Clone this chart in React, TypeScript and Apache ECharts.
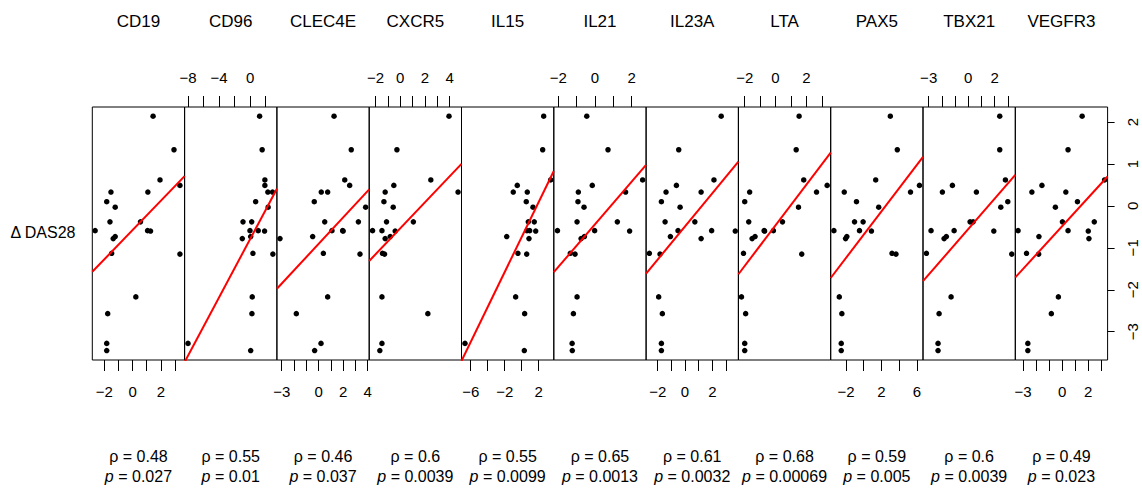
import React, { useEffect, useRef } from "react";
import * as echarts from "echarts";

// ---------- data ----------
const genes = ["CD19", "CD96", "CLEC4E", "CXCR5", "IL15", "IL21", "IL23A", "LTA", "PAX5", "TBX21", "VEGFR3"];

// change in DAS28 per patient (shared y values)
const deltaDAS28 = [2.14, 1.34, 0.62, 0.49, 0.33, 0.33, 0.1, -0.03, -0.38, -0.38, -0.59, -0.59, -0.6, -0.73, -0.78, -1.13, -1.15, -2.17, -2.57, -3.28, -3.45];

// expression values per gene (same patient order as deltaDAS28)
const xCD19 = [1.45, 2.93, 1.94, 3.35, -1.53, 1.08, -1.83, -1.23, -1.6, 0.56, -2.65, 1.06, 1.27, -1.23, -1.37, -1.48, 3.35, 0.23, -1.76, -1.83, -1.83];
const xCD96 = [1.23, 1.56, 1.91, 1.91, 2.29, 2.9, 0.72, 2.33, -0.91, 0.21, -0.01, 1.05, 1.87, 0.08, -1.0, 0.37, 2.94, 0.28, 0.24, -8.0, 0.08];
const xCLEC4E = [1.26, 2.66, 2.13, 2.53, 0.22, 0.74, -0.35, 3.83, 0.5, 3.24, 1.09, 1.96, 2.0, -0.48, -3.14, 0.39, 3.37, 0.74, -1.81, 0.2, -0.32];
const xCXCR5 = [3.94, -0.27, 2.47, -0.52, -1.22, 4.67, -1.32, -0.57, -1.11, 1.06, -2.24, -1.48, -0.41, -0.81, -1.22, -1.44, -1.27, -1.48, 2.23, -1.48, -1.65];
const xIL15 = [2.59, 2.47, 3.41, -0.52, -0.99, 0.66, 0.54, 1.33, 0.78, 1.48, 0.62, 0.94, 1.65, -1.76, 0.86, -0.44, 0.59, -0.71, 0.35, -6.67, 0.31];
const xIL21 = [-0.45, 0.71, 2.6, -0.15, -0.91, 1.67, -0.93, -0.6, -0.98, 1.22, -2.05, -0.02, 1.89, -0.58, -0.76, -1.35, -1.09, -0.98, -1.18, -1.25, -1.24];
const xIL23A = [2.65, -0.46, 2.12, -0.63, -1.39, 1.18, -1.73, -0.36, -1.46, 0.72, -0.51, 1.95, 3.68, -1.07, 1.18, -2.61, -1.83, -1.93, -1.66, -1.73, -1.73];
const xLTA = [1.53, 1.34, 1.83, 3.35, -1.68, 2.66, -2.0, 1.49, -1.74, 0.45, -0.74, -0.14, -0.71, -1.33, -1.52, -2.08, 1.7, -2.21, -1.94, -2.0, -2.0];
const xPAX5 = [3.01, 3.8, 1.36, 6.3, -2.19, 5.29, -0.81, 1.7, -1.03, -0.06, -3.36, -0.47, 0.88, -1.9, -2.04, 3.2, 3.65, -2.75, -2.46, -2.53, -2.53];
const xTBX21 = [2.39, 2.39, 2.82, -1.2, -1.96, 0.62, 3.0, 2.47, 0.14, 0.37, -2.82, -1.07, 1.94, -1.66, -1.83, -3.17, 3.3, -1.3, -2.21, -2.29, -2.29];
const xVEGFR3 = [1.53, 0.45, 3.25, -1.55, -2.32, 0.28, 1.17, -0.52, 0.02, 2.46, -3.38, 0.45, 2.0, -1.78, 2.05, -2.73, -1.8, -0.29, -0.83, -2.63, -2.63];

const xValues = [xCD19, xCD96, xCLEC4E, xCXCR5, xIL15, xIL21, xIL23A, xLTA, xPAX5, xTBX21, xVEGFR3];

// x axis extents per panel
const xMin = [-2.85, -8.44, -3.39, -2.51, -7.08, -2.25, -2.85, -2.41, -3.72, -3.43, -3.59];
const xMax = [3.68, 3.46, 4.12, 4.95, 3.78, 2.79, 3.91, 3.58, 6.7, 3.57, 3.48];

// tick marks and tick labels per panel
const xTicks = [
  [-2, -1, 0, 1, 2, 3],
  [-8, -6, -4, -2, 0, 2],
  [-3, -2, -1, 0, 1, 2, 3, 4],
  [-2, -1, 0, 1, 2, 3, 4],
  [-6, -4, -2, 0, 2],
  [-2, -1, 0, 1, 2],
  [-2, -1, 0, 1, 2, 3],
  [-2, -1, 0, 1, 2, 3],
  [-2, 0, 2, 4, 6],
  [-3, -2, -1, 0, 1, 2, 3],
  [-3, -2, -1, 0, 1, 2, 3],
];
const xTickLabels = [
  [-2, 0, 2],
  [-8, -4, 0],
  [-3, 0, 2, 4],
  [-2, 0, 2, 4],
  [-6, -2, 2],
  [-2, 0, 2],
  [-2, 0, 2],
  [-2, 0, 2],
  [-2, 2, 6],
  [-3, 0, 2],
  [-3, 0, 2],
];

const yMin = -3.676;
const yMax = 2.36;
const yTicks = [-3, -2, -1, 0, 1, 2];

const rho = ["0.48", "0.55", "0.46", "0.6", "0.55", "0.65", "0.61", "0.68", "0.59", "0.6", "0.49"];
const pValues = ["0.027", "0.01", "0.037", "0.0039", "0.0099", "0.0013", "0.0032", "0.00069", "0.005", "0.0039", "0.023"];

// ---------- layout ----------
const FONT = "'Liberation Sans', Arial, Helvetica, sans-serif";
const PANEL_LEFT = 92.3;
const PANEL_W = 92.3;
const PANEL_TOP = 107;
const PANEL_H = 253;

const fmt = (v: number) => (v < 0 ? "\u2212" + Math.abs(v) : String(v));

function linFit(xs: number[], ys: number[]) {
  const n = xs.length;
  let mx = 0, my = 0;
  for (let i = 0; i < n; i++) { mx += xs[i]; my += ys[i]; }
  mx /= n; my /= n;
  let sxy = 0, sxx = 0;
  for (let i = 0; i < n; i++) { sxy += (xs[i] - mx) * (ys[i] - my); sxx += (xs[i] - mx) ** 2; }
  const b = sxy / sxx;
  return { a: my - b * mx, b };
}

export default function App() {
  const ref = useRef<HTMLDivElement>(null);

  useEffect(() => {
    if (!ref.current) return;
    const chart = echarts.init(ref.current, null, { renderer: "svg" });

    const grids: any[] = [];
    const xAxes: any[] = [];
    const yAxes: any[] = [];
    const series: any[] = [];
    const graphics: any[] = [];

    genes.forEach((g, i) => {
      const left = PANEL_LEFT + i * PANEL_W;
      const cx = left + PANEL_W / 2;
      grids.push({
        left, top: PANEL_TOP, width: PANEL_W, height: PANEL_H,
        show: true, borderColor: "#000", borderWidth: 1, backgroundColor: "transparent",
        containLabel: false, outerBoundsMode: "none",
      });
      const bottom = i % 2 === 0;
      xAxes.push({
        gridIndex: i, type: "value", min: xMin[i], max: xMax[i],
        position: bottom ? "bottom" : "top",
        axisLine: { show: false, onZero: false },
        splitLine: { show: false },
        axisTick: { show: true, inside: false, length: 11, lineStyle: { color: "#000", width: 1 }, customValues: xTicks[i] },
        axisLabel: {
          show: true, customValues: xTickLabels[i], formatter: (v: number) => fmt(v),
          margin: bottom ? 24 : 22, color: "#000", fontSize: 15, fontFamily: FONT,
          showMinLabel: true, showMaxLabel: true, hideOverlap: false,
        },
      });
      const last = i === genes.length - 1;
      yAxes.push({
        gridIndex: i, type: "value", min: yMin, max: yMax, position: "right", show: last,
        axisLine: { show: false, onZero: false },
        splitLine: { show: false },
        axisTick: { show: true, inside: false, length: 7, lineStyle: { color: "#000", width: 1 }, customValues: yTicks },
        axisLabel: {
          show: true, customValues: yTicks, formatter: (v: number) => fmt(v), rotate: 90,
          margin: 17, color: "#000", fontSize: 15, fontFamily: FONT,
        },
      });
      const xs = xValues[i];
      series.push({
        type: "scatter", xAxisIndex: i, yAxisIndex: i,
        data: xs.map((x, k) => [x, deltaDAS28[k]]),
        symbol: "circle", symbolSize: 5.5,
        itemStyle: { color: "#000", opacity: 1 },
        z: 2,
      });
      const { a, b } = linFit(xs, deltaDAS28);
      series.push({
        type: "line", xAxisIndex: i, yAxisIndex: i,
        data: [[xMin[i], a + b * xMin[i]], [xMax[i], a + b * xMax[i]]],
        showSymbol: false, symbol: "none", clip: true,
        lineStyle: { color: "#ff0000", width: 2 },
        z: 3,
      });

      graphics.push({
        type: "text", x: cx, y: 21,
        style: { text: g, fill: "#000", fontSize: 17, fontFamily: FONT, textAlign: "center", align: "center", textVerticalAlign: "middle", verticalAlign: "middle" },
      });
      graphics.push({
        type: "text", x: cx, y: 456,
        style: { text: "\u03c1 = " + rho[i], fill: "#000", fontSize: 16, fontFamily: FONT, textAlign: "center", align: "center", textVerticalAlign: "middle", verticalAlign: "middle" },
      });
      graphics.push({
        type: "text", x: cx, y: 476,
        style: {
          text: "{i|p} = " + pValues[i], fill: "#000", fontSize: 16, fontFamily: FONT,
          textAlign: "center", align: "center", textVerticalAlign: "middle", verticalAlign: "middle",
          rich: { i: { fontStyle: "italic", fontSize: 16, fontFamily: FONT, fill: "#000" } },
        },
      });
    });

    graphics.push({
      type: "text", x: 43, y: 232,
      style: { text: "\u0394 DAS28", fill: "#000", fontSize: 16, fontFamily: FONT, textAlign: "center", align: "center", textVerticalAlign: "middle", verticalAlign: "middle" },
    });

    chart.setOption({
      animation: false,
      backgroundColor: "#fff",
      grid: grids,
      xAxis: xAxes,
      yAxis: yAxes,
      series,
      graphic: graphics,
    });

    return () => chart.dispose();
  }, []);

  return <div ref={ref} style={{ position: "absolute", left: 0, top: 0, width: 1142, height: 493 }} />;
}
